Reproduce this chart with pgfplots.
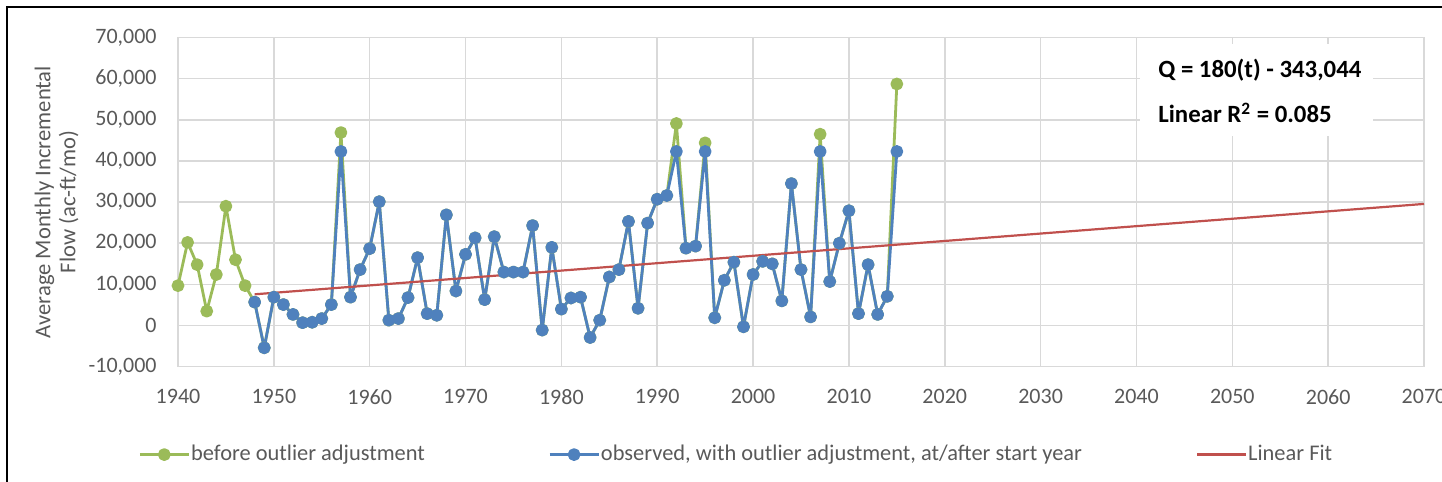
\documentclass[border=0pt]{standalone}
\usepackage{fontspec}
\setmainfont{Carlito}
\usepackage{pgfplots}
\pgfplotsset{compat=1.18}
\usepackage{pgfplotstable}

\definecolor{xlgreen}{RGB}{155,187,89}
\definecolor{xlblue}{RGB}{79,129,189}
\definecolor{xlred}{RGB}{192,80,77}
\definecolor{gridgray}{RGB}{217,217,217}
\definecolor{labelgray}{RGB}{89,89,89}

% before outlier adjustment (all years)
\pgfplotstableread{
year flow
1940 9700
1941 20200
1942 14800
1943 3500
1944 12400
1945 29000
1946 16000
1947 9700
1948 5700
1949 -5400
1950 6900
1951 5100
1952 2700
1953 700
1954 800
1955 1700
1956 5100
1957 46900
1958 6900
1959 13600
1960 18700
1961 30100
1962 1300
1963 1700
1964 6800
1965 16500
1966 2900
1967 2500
1968 26900
1969 8400
1970 17300
1971 21300
1972 6300
1973 21600
1974 13000
1975 13000
1976 13000
1977 24300
1978 -1100
1979 19000
1980 4000
1981 6700
1982 6900
1983 -2900
1984 1300
1985 11800
1986 13600
1987 25300
1988 4200
1989 24900
1990 30700
1991 31600
1992 49100
1993 18800
1994 19300
1995 44400
1996 1900
1997 11000
1998 15400
1999 -300
2000 12400
2001 15600
2002 15000
2003 6000
2004 34500
2005 13600
2006 2100
2007 46500
2008 10700
2009 20000
2010 27900
2011 2900
2012 14800
2013 2700
2014 7100
2015 58700
}\rawdata

% observed, with outlier adjustment, at/after start year
\pgfplotstableread{
year flow
1948 5700
1949 -5400
1950 6900
1951 5100
1952 2700
1953 700
1954 800
1955 1700
1956 5100
1957 42300
1958 6900
1959 13600
1960 18700
1961 30100
1962 1300
1963 1700
1964 6800
1965 16500
1966 2900
1967 2500
1968 26900
1969 8400
1970 17300
1971 21300
1972 6300
1973 21600
1974 13000
1975 13000
1976 13000
1977 24300
1978 -1100
1979 19000
1980 4000
1981 6700
1982 6900
1983 -2900
1984 1300
1985 11800
1986 13600
1987 25300
1988 4200
1989 24900
1990 30700
1991 31600
1992 42300
1993 18800
1994 19300
1995 42300
1996 1900
1997 11000
1998 15400
1999 -300
2000 12400
2001 15600
2002 15000
2003 6000
2004 34500
2005 13600
2006 2100
2007 42300
2008 10700
2009 20000
2010 27900
2011 2900
2012 14800
2013 2700
2014 7100
2015 42300
}\adjdata

\begin{document}
\begin{tikzpicture}
\useasboundingbox (-89pt,-57.65pt) rectangle (632pt,183.35pt);
\begin{axis}[
    scale only axis,
    width=623pt, height=164.6pt,
    xmin=1940, xmax=2070,
    ymin=-10000, ymax=70000,
    xtick={1940,1950,...,2070},
    ytick={-10000,0,...,70000},
    grid=major,
    major grid style={gridgray, line width=0.75pt},
    axis line style={draw=none},
    major tick length=0pt,
    /pgf/number format/assume math mode=true,
    xticklabel style={/pgf/number format/1000 sep=, anchor=center, yshift=-15pt,
        font=\fontsize{11}{12}\selectfont, text=labelgray},
    yticklabel style={/pgf/number format/fixed, /pgf/number format/1000 sep={,},
        anchor=east, inner sep=0pt, xshift=-10.5pt,
        font=\fontsize{11}{12}\selectfont, text=labelgray},
    scaled y ticks=false,
    ylabel={Average Monthly Incremental\\Flow (ac-ft/mo)},
    ylabel style={at={(axis description cs:-0.0975,0.5)}, anchor=center,
        align=center, font=\fontsize{11.3}{12.5}\selectfont, text=labelgray},
    legend columns=3,
    legend cell align=left,
    legend style={at={(axis description cs:-0.0321,-0.267)}, anchor=west,
        draw=none, fill=none, inner sep=0pt,
        font=\fontsize{11.2}{12}\selectfont, text=labelgray,
        nodes={inner xsep=0.5pt},
        /tikz/every even column/.append style={column sep=0pt}},
    legend image code/.code={
        \draw[mark repeat=2, mark phase=2]
            plot coordinates {(0pt,0pt) (12.25pt,0pt) (24.5pt,0pt)};},
]
\addplot[xlgreen, line width=1.4pt, line join=round, mark=*, mark size=2.5pt,
    mark options={fill=xlgreen, draw=xlgreen}]
    table[x=year, y=flow] {\rawdata};
\addlegendentry{\makebox[178pt][l]{before outlier adjustment}}

\addplot[xlblue, line width=1.4pt, line join=round, mark=*, mark size=2.5pt,
    mark options={fill=xlblue, draw=xlblue}]
    table[x=year, y=flow] {\adjdata};
\addlegendentry{\makebox[297pt][l]{observed, with outlier adjustment, at/after start year}}

\addplot[xlred, line width=1.1pt, no marks]
    coordinates {(1948,7596) (2070,29556)};
\addlegendentry{Linear Fit}
\end{axis}

% trendline label box
\fill[white] (481pt,115.35pt) rectangle (597.5pt,161.35pt);
\node[anchor=west, inner sep=0pt, font=\fontsize{12.4}{14}\selectfont\bfseries]
    at (490pt,148.35pt) {Q = 180(t) - 343,044};
\node[anchor=west, inner sep=0pt, font=\fontsize{12.4}{14}\selectfont\bfseries]
    at (490pt,126.85pt) {Linear R\textsuperscript{2} = 0.085};

% chart frame (left and top edges visible)
\draw[black, line width=1.1pt] (-85.5pt,-57.65pt) -- (-85.5pt,179.7pt) -- (632pt,179.7pt);
\end{tikzpicture}
\end{document}
